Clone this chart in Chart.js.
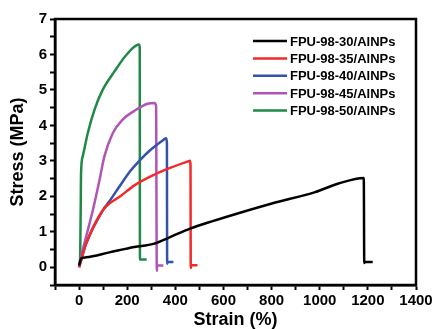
<!DOCTYPE html>
<html>
<head>
<meta charset="utf-8">
<script src="https://cdn.jsdelivr.net/npm/chart.js@4.4.1/dist/chart.umd.min.js"></script>
<style>
  html, body { margin: 0; padding: 0; background: #fff; }
  #wrap { width: 435px; height: 329px; position: relative; }
</style>
</head>
<body>
<div id="wrap"><canvas id="stressChart"></canvas></div>
<script>
// Daten (Strain in %, Stress in MPa)
const labels = ['FPU-98-30/AlNPs', 'FPU-98-35/AlNPs', 'FPU-98-40/AlNPs', 'FPU-98-45/AlNPs', 'FPU-98-50/AlNPs'];
const colors = ['#000000', '#f22a2a', '#3550ad', '#b055b5', '#1f8a45'];

const strain30 = [0, 8, 29, 126, 230, 309, 378, 461, 545, 801, 981, 1078, 1183, 1185, 1186, 1220];
const stress30 = [0.05, 0.24, 0.28, 0.42, 0.57, 0.66, 0.85, 1.09, 1.28, 1.8, 2.12, 2.36, 2.52, 0.12, 0.15, 0.15];

const strain35 = [0, 29, 98, 130, 167, 230, 309, 378, 450, 461, 463, 464, 466, 492];
const stress35 = [0, 0.66, 1.6, 1.82, 1.98, 2.31, 2.6, 2.8, 2.98, 3.0, 2.9, -0.02, 0.06, 0.06];

const strain40 = [0, 29, 98, 130, 167, 216, 253, 295, 350, 362, 365, 366, 368, 392];
const stress40 = [0, 0.66, 1.6, 1.9, 2.27, 2.74, 3.02, 3.3, 3.59, 3.64, 3.5, 0.1, 0.15, 0.15];

const strain45 = [0, 1, 29, 57, 85, 105, 140, 181, 237, 285, 313, 320, 323, 324, 350];
const stress45 = [0, 0.05, 0.85, 1.6, 2.46, 3.12, 3.78, 4.16, 4.44, 4.61, 4.63, 4.55, -0.1, 0.05, 0.05];

const strain50 = [0, 4, 7, 8, 15, 36, 64, 98, 143, 198, 249, 252, 253, 255, 281];
const stress50 = [0.05, 0.19, 1.8, 2.6, 3.12, 3.78, 4.44, 5.0, 5.48, 6.0, 6.28, 6.2, 0.22, 0.22, 0.22];

const xTicks = [0, 200, 400, 600, 800, 1000, 1200, 1400];
const yTicks = [0, 1, 2, 3, 4, 5, 6, 7];

function toPoints(xs, ys) {
  return xs.map((x, i) => ({ x: x, y: ys[i] }));
}

const series = [
  [strain30, stress30],
  [strain35, stress35],
  [strain40, stress40],
  [strain45, stress45],
  [strain50, stress50]
];

const datasets = series.map((s, i) => ({
  label: labels[i],
  data: toPoints(s[0], s[1]),
  borderColor: colors[i],
  backgroundColor: colors[i],
  borderWidth: 2.5,
  pointRadius: 0,
  cubicInterpolationMode: 'monotone',
  fill: false
}));

// Rahmen oben + rechts
const frame = {
  id: 'frame',
  afterDraw(chart) {
    const { ctx, chartArea: a } = chart;
    ctx.save();
    ctx.strokeStyle = '#000';
    ctx.lineWidth = 2.5;
    ctx.strokeRect(a.left, a.top, a.right - a.left, a.bottom - a.top);
    ctx.restore();
  }
};

// Legende im Plot (oben rechts)
const innerLegend = {
  id: 'innerLegend',
  afterDraw(chart) {
    const ctx = chart.ctx;
    ctx.save();
    ctx.font = 'bold 13px "Liberation Sans", Arial, sans-serif';
    ctx.textBaseline = 'middle';
    chart.data.datasets.forEach((ds, i) => {
      const y = 41 + i * 17.4;
      ctx.strokeStyle = ds.borderColor;
      ctx.lineWidth = 2.5;
      ctx.beginPath();
      ctx.moveTo(253, y);
      ctx.lineTo(287, y);
      ctx.stroke();
      ctx.fillStyle = '#000';
      ctx.fillText(ds.label, 290, y + 1);
    });
    ctx.restore();
  }
};

const tickFont = { family: '"Liberation Sans", Arial, sans-serif', size: 15, weight: 'bold' };
const titleFont = { family: '"Liberation Sans", Arial, sans-serif', size: 18, weight: 'bold', lineHeight: 1.0 };

const config = {
  type: 'line',
  data: { datasets: datasets },
  options: {
    responsive: true,
    maintainAspectRatio: false,
    animation: false,
    layout: { padding: { left: 0, top: 19, right: 19, bottom: 0 } },
    plugins: {
      legend: { display: false },
      tooltip: { enabled: false }
    },
    scales: {
      x: {
        type: 'linear',
        min: -100,
        max: 1400,
        afterFit: s => { s.height = 44; },
        border: { color: '#000', width: 2.5 },
        grid: { drawOnChartArea: false, color: '#000', tickLength: 5, tickWidth: 2 },
        ticks: {
          stepSize: 100,
          autoSkip: false,
          maxRotation: 0,
          color: '#000',
          font: tickFont,
          padding: 2,
          callback: v => (xTicks.includes(v) ? String(v) : '')
        },
        title: { display: true, text: 'Strain (%)', color: '#000', font: titleFont, padding: { top: 0, bottom: 0 } }
      },
      y: {
        min: -0.5,
        max: 7,
        afterFit: s => { s.width = 55; },
        border: { color: '#000', width: 2.5 },
        grid: { drawOnChartArea: false, color: '#000', tickLength: 5, tickWidth: 2 },
        ticks: {
          stepSize: 0.5,
          autoSkip: false,
          color: '#000',
          font: tickFont,
          padding: 3,
          callback: v => (yTicks.includes(v) ? String(v) : '')
        },
        title: { display: true, text: 'Stress (MPa)', color: '#000', font: titleFont, padding: { top: 9, bottom: 0 } }
      }
    }
  },
  plugins: [frame, innerLegend]
};

const chart = new Chart(document.getElementById('stressChart'), config);
</script>
</body>
</html>
